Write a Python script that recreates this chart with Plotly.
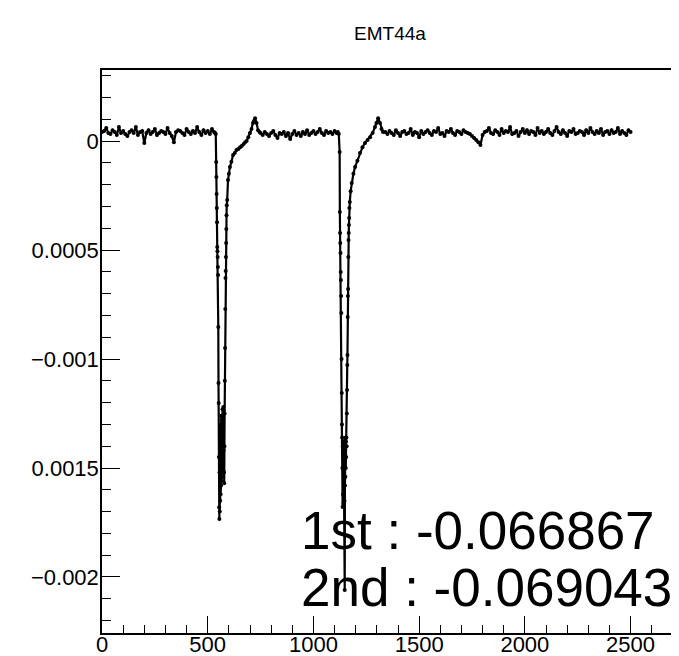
import plotly.graph_objects as go

# ---- data (time samples, amplitude) ----
t_base1 = list(range(0, 540, 10))
a_base1 = [41e-6, 46e-6, 60e-6, 37e-6, 32e-6, 50e-6, 41e-6, 28e-6, 64e-6, 37e-6,
           46e-6, 32e-6, 23e-6, 41e-6, 50e-6, 37e-6, 64e-6, 28e-6, 41e-6, 46e-6,
           -9e-6, 37e-6, 50e-6, 32e-6, 41e-6, 55e-6, 28e-6, 37e-6, 46e-6, 41e-6,
           32e-6, 60e-6, 37e-6, 23e-6, -5e-6, 41e-6, 50e-6, 46e-6, 37e-6, 28e-6,
           55e-6, 41e-6, 32e-6, 46e-6, 37e-6, 64e-6, 41e-6, 28e-6, 50e-6, 37e-6,
           46e-6, 32e-6, 55e-6, 41e-6]

t_dip1 = [535, 538,
          540, 541, 542, 543, 544, 545, 546, 547, 548, 549,
          550, 551, 552, 553, 554, 555, 556, 557, 558, 559,
          560, 561, 562, 563, 564, 565, 566, 567, 568, 569,
          570, 571, 572, 573, 574, 575, 576, 577, 578, 579,
          580, 581, 582, 583, 584, 585, 586, 587, 588, 589, 590,
          592, 596, 600, 605, 612, 620, 628, 636, 645, 653, 661, 670,
          677, 684, 692, 700, 707, 714, 719, 724, 731, 738, 745]
a_dip1 = [37e-6, 32e-6,
          -96e-6, -165e-6, -243e-6, -307e-6, -372e-6, -486e-6, -505e-6, -532e-6, -578e-6, -615e-6,
          -853e-6, -1110e-6, -1202e-6, -1450e-6, -1680e-6, -1734e-6, -1520e-6, -1700e-6, -1380e-6, -1650e-6,
          -1300e-6, -1620e-6, -1420e-6, -1580e-6, -1260e-6, -1560e-6, -1350e-6, -1540e-6, -1280e-6, -1500e-6,
          -1230e-6, -1480e-6, -1300e-6, -1450e-6, -1220e-6, -1420e-6, -1250e-6, -1520e-6, -1570e-6, -1400e-6,
          -1250e-6, -1100e-6, -950e-6, -771e-6, -628e-6, -596e-6, -532e-6, -468e-6, -404e-6, -340e-6, -294e-6,
          -271e-6, -179e-6, -150e-6, -119e-6, -95e-6, -64e-6, -55e-6, -41e-6, -37e-6, -28e-6, -23e-6, -14e-6,
          -5e-6, 0.0, 18e-6, 37e-6, 55e-6, 83e-6, 92e-6, 105e-6, 83e-6, 50e-6, 41e-6]

t_base2 = list(range(750, 1120, 10))
a_base2 = [37e-6, 28e-6, 41e-6, 32e-6, 23e-6, 37e-6, 46e-6, 28e-6, 14e-6, 37e-6,
           32e-6, 41e-6, 23e-6, 37e-6, 9e-6, 32e-6, 46e-6, 28e-6, 37e-6, 23e-6,
           41e-6, 32e-6, 50e-6, 28e-6, 37e-6, 46e-6, 32e-6, 41e-6, 55e-6, 37e-6,
           28e-6, 46e-6, 37e-6, 41e-6, 32e-6, 46e-6, 37e-6]

t_dip2 = [1115, 1120, 1124,
          1125, 1126, 1127, 1128, 1129, 1130, 1131, 1132, 1133, 1134,
          1135, 1136, 1137, 1138, 1139, 1140, 1141, 1142, 1143, 1144,
          1145, 1146, 1147, 1148, 1149, 1150, 1151, 1152, 1153, 1154,
          1155, 1156, 1157, 1158, 1159, 1160, 1161, 1162, 1163, 1164,
          1165, 1166, 1167, 1168, 1169, 1170,
          1172, 1176, 1181, 1189, 1197, 1208, 1220, 1232, 1244, 1256,
          1268, 1280, 1291, 1298, 1306, 1315, 1322, 1329]
a_dip2 = [41e-6, 32e-6, -50e-6,
          -326e-6, -422e-6, -468e-6, -514e-6, -601e-6, -638e-6, -711e-6, -789e-6, -1000e-6, -1156e-6,
          -1300e-6, -1360e-6, -1500e-6, -1679e-6, -1400e-6, -1620e-6, -1450e-6, -1660e-6, -1380e-6, -1600e-6,
          -1420e-6, -1550e-6, -1650e-6, -2060e-6, -1580e-6, -1370e-6, -1540e-6, -1360e-6, -1500e-6, -1380e-6,
          -1450e-6, -1360e-6, -1400e-6, -1250e-6, -1142e-6, -1027e-6, -982e-6, -807e-6, -711e-6, -679e-6,
          -532e-6, -454e-6, -422e-6, -385e-6, -353e-6, -307e-6,
          -280e-6, -230e-6, -193e-6, -150e-6, -119e-6, -90e-6, -55e-6, -28e-6, -9e-6, 5e-6,
          18e-6, 37e-6, 64e-6, 83e-6, 105e-6, 83e-6, 55e-6, 41e-6]

t_base3 = list(range(1340, 2510, 10))
a_base3 = [41e-6, 32e-6, 46e-6, 37e-6, 28e-6, 50e-6, 37e-6, 23e-6, 41e-6, 46e-6,
           32e-6, 37e-6, 55e-6, 28e-6, 41e-6, 37e-6, 18e-6, 46e-6, 32e-6, 41e-6,
           50e-6, 37e-6, 28e-6, 46e-6, 41e-6, 60e-6, 32e-6, 37e-6, 23e-6, 46e-6,
           41e-6, 55e-6, 37e-6, 28e-6, 46e-6, 41e-6, 32e-6, 50e-6, 41e-6,
           37e-6, 32e-6, 23e-6, 14e-6, 5e-6, -5e-6, -18e-6, 28e-6, 41e-6,
           46e-6, 60e-6, 37e-6, 32e-6, 50e-6, 41e-6, 28e-6, 55e-6, 37e-6, 46e-6,
           41e-6, 64e-6, 32e-6, 37e-6, 46e-6, 23e-6, 41e-6, 55e-6, 37e-6, 50e-6,
           32e-6, 46e-6, 41e-6, 28e-6, 60e-6, 37e-6, 46e-6, 32e-6, 41e-6, 55e-6,
           37e-6, 28e-6, 46e-6, 64e-6, 41e-6, 32e-6, 50e-6, 37e-6, 23e-6, 46e-6,
           41e-6, 55e-6, 32e-6, 37e-6, 46e-6, 41e-6, 28e-6, 50e-6, 37e-6, 60e-6,
           41e-6, 32e-6, 46e-6, 37e-6, 55e-6, 28e-6, 41e-6, 46e-6, 32e-6, 50e-6,
           37e-6, 41e-6, 60e-6, 32e-6, 46e-6, 37e-6, 28e-6, 50e-6, 41e-6]

x_tickvals = [0, 500, 1000, 1500, 2000, 2500]
y_tickvals = [0, -0.0005, -0.001, -0.0015, -0.002]
y_ticktext = ["0", "0.0005", "\u22120.001", "0.0015", "\u22120.002"]
title_text = "EMT44a"
result_lines = ["1st : -0.066867", "2nd : -0.069043"]

for t, a in [(t_base1, a_base1), (t_dip1, a_dip1), (t_base2, a_base2),
             (t_dip2, a_dip2), (t_base3, a_base3)]:
    assert len(t) == len(a), (len(t), len(a))

t_all = t_base1 + t_dip1 + t_base2 + t_dip2 + t_base3
a_all = a_base1 + a_dip1 + a_base2 + a_dip2 + a_base3

FONT = "Helvetica, Liberation Sans, Arial, sans-serif"

# the page body has an 8px margin, so the figure is 8px smaller
OFF = 8
W, H = 679 - OFF, 656 - OFF

fig = go.Figure()
fig.add_trace(go.Scatter(
    x=t_all, y=a_all, mode="lines+markers",
    line=dict(color="black", width=2.2),
    marker=dict(color="black", size=4),
    showlegend=False, hoverinfo="skip",
))

fig.update_layout(
    width=W, height=H,
    margin=dict(l=102 - OFF, r=0, t=70 - OFF, b=23, autoexpand=False),
    paper_bgcolor="white", plot_bgcolor="white",
    font=dict(family=FONT, color="black"),
    title=dict(text=title_text, x=(390 - OFF) / W, xanchor="center",
               y=1 - (33 - OFF) / H, yanchor="middle",
               font=dict(size=19, family=FONT, color="black")),
    showlegend=False,
)

fig.update_xaxes(
    range=[0, 2729], showgrid=False, zeroline=False,
    showline=True, linecolor="black", linewidth=1.5, mirror=True,
    ticks="inside", ticklen=17, tickwidth=1.3, tickcolor="black",
    tickvals=x_tickvals, tickfont=dict(size=22, family=FONT, color="black"),
    ticklabelstandoff=-9,
    minor=dict(dtick=100, tick0=0, ticks="inside", ticklen=8,
               tickwidth=1.3, tickcolor="black", showgrid=False),
    automargin=False,
)
fig.update_yaxes(
    range=[-0.002257, 0.000326], showgrid=False, zeroline=False,
    showline=True, linecolor="black", linewidth=1.5, mirror=False,
    ticks="inside", ticklen=18, tickwidth=1.3, tickcolor="black",
    tickvals=y_tickvals, ticktext=y_ticktext,
    tickfont=dict(size=22, family=FONT, color="black"),
    ticklabelstandoff=-3,
    minor=dict(dtick=0.0001, tick0=0, ticks="inside", ticklen=9,
               tickwidth=1.3, tickcolor="black", showgrid=False),
    automargin=False,
)

for txt, ypix in zip(result_lines, [530, 587]):
    fig.add_annotation(
        text=txt, xref="paper", yref="paper",
        x=(299 - 102) / 577, y=(633 - ypix) / 563,
        xanchor="left", yanchor="middle", showarrow=False,
        font=dict(size=53, family=FONT, color="black"),
    )

fig.write_html("out.html")
